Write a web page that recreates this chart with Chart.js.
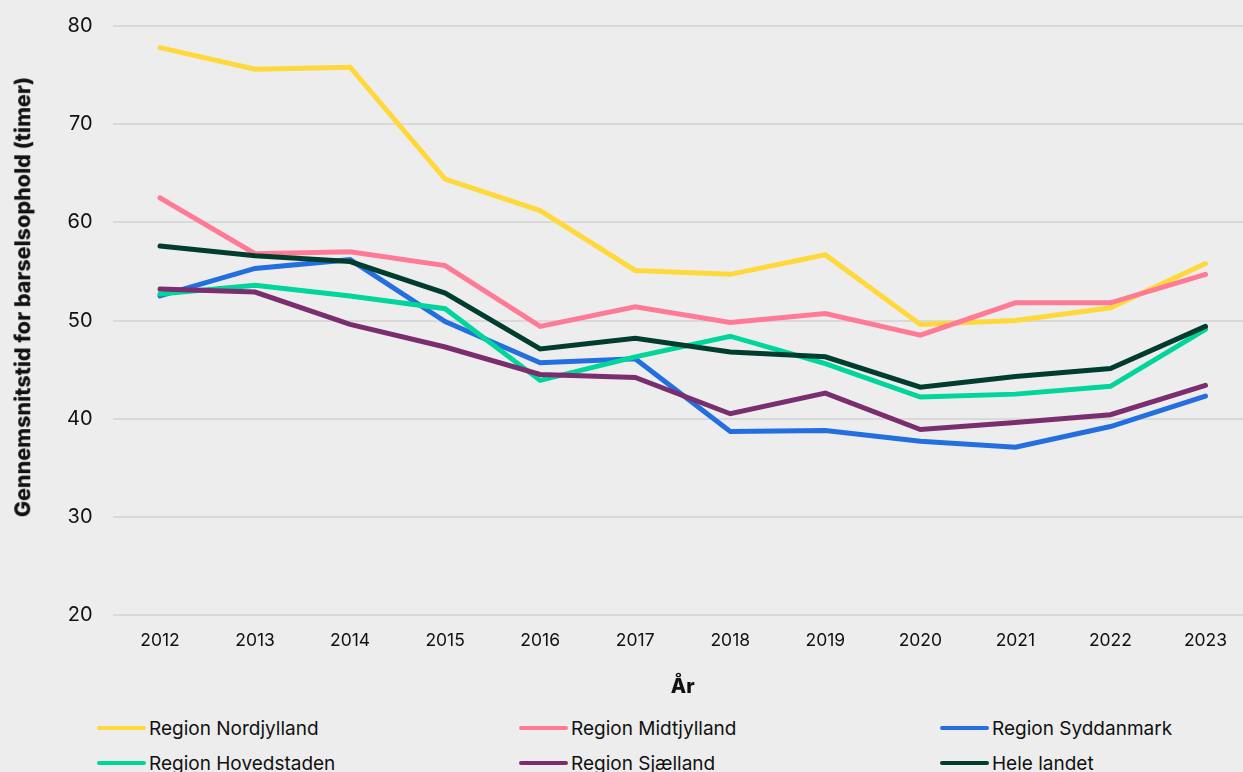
<!DOCTYPE html>
<html>
<head>
<meta charset="utf-8">
<script src="https://cdn.jsdelivr.net/npm/chart.js@4/dist/chart.umd.min.js"></script>
<style>
  html, body { margin: 0; padding: 0; background: #ededed; overflow: hidden; width: 1243px; height: 772px; }
  #wrap { position: absolute; left: 0; top: 0; width: 1253px; height: 705px; }
  #legend { position: absolute; left: 0; top: 716px; width: 1243px; font-family: Inter, "Noto Sans", sans-serif; font-size: 19px; color: #111; }
  .item { position: absolute; display: flex; align-items: center; height: 24px; white-space: nowrap; }
  .sw { width: 49px; height: 4px; border-radius: 2px; margin-right: 3px; }
  #ytitle { position: absolute; left: 22.5px; top: 296.5px; transform: translate(-50%, -50%) rotate(-90deg); white-space: nowrap;
            font-family: Inter, "Noto Sans", sans-serif; font-size: 21.5px; font-weight: 800; color: #111; line-height: 1; }
</style>
</head>
<body>
<div id="wrap"><canvas id="c"></canvas></div>
<div id="ytitle">Gennemsnitstid for barselsophold (timer)</div>
<div id="legend"></div>
<script>
const years = ["2012","2013","2014","2015","2016","2017","2018","2019","2020","2021","2022","2023"];
const seriesNames = ["Region Nordjylland","Region Midtjylland","Region Syddanmark","Region Hovedstaden","Region Sjælland","Hele landet"];
const nordjylland = [77.8, 75.6, 75.8, 64.4, 61.2, 55.1, 54.7, 56.7, 49.6, 50.0, 51.3, 55.8];
const midtjylland = [62.5, 56.8, 57.0, 55.6, 49.4, 51.4, 49.8, 50.7, 48.5, 51.8, 51.8, 54.7];
const syddanmark  = [52.5, 55.3, 56.2, 49.9, 45.7, 46.1, 38.7, 38.8, 37.7, 37.1, 39.2, 42.3];
const hovedstaden = [52.7, 53.6, 52.5, 51.2, 43.9, 46.3, 48.4, 45.6, 42.2, 42.5, 43.3, 49.1];
const sjaelland   = [53.2, 52.9, 49.6, 47.3, 44.5, 44.2, 40.5, 42.6, 38.9, 39.6, 40.4, 43.4];
const heleLandet  = [57.6, 56.6, 56.0, 52.8, 47.1, 48.2, 46.8, 46.3, 43.2, 44.3, 45.1, 49.4];
const colors = ["#ffd93b", "#ff7b95", "#246fe0", "#00d69b", "#7a2e6e", "#003d2f"];
const yTicks = [20, 30, 40, 50, 60, 70, 80];

const allData = [nordjylland, midtjylland, syddanmark, hovedstaden, sjaelland, heleLandet];
const FONT = 'Inter, "Noto Sans", sans-serif';

const datasets = allData.map((d, i) => ({
  label: seriesNames[i],
  data: d,
  borderColor: colors[i],
  backgroundColor: colors[i],
  borderWidth: 5,
  pointRadius: 0,
  pointHoverRadius: 0,
  tension: 0,
  fill: false,
  borderCapStyle: 'round',
  order: allData.length - i
}));

new Chart(document.getElementById('c'), {
  type: 'line',
  data: { labels: years, datasets },
  options: {
    responsive: true,
    maintainAspectRatio: false,
    animation: false,
    layout: { padding: { top: 26, right: 0, bottom: 0, left: 0 } },
    plugins: { legend: { display: false }, tooltip: { enabled: false } },
    scales: {
      x: {
        offset: true,
        grid: { display: false, drawTicks: false },
        border: { display: false },
        ticks: { color: '#111', font: { family: FONT, size: 17.5 }, padding: 15, maxRotation: 0 },
        title: { display: true, text: 'År', color: '#111', font: { family: FONT, size: 20, weight: 800 }, padding: { top: 8, bottom: 6 } },
        afterFit: (s) => { s.height = 90; s.paddingLeft = 0; s.paddingRight = 0; }
      },
      y: {
        min: 20, max: 80,
        afterBuildTicks: (s) => { s.ticks = yTicks.map(v => ({ value: v })); },
        grid: { color: '#d9d9d9', lineWidth: 2, drawTicks: false },
        border: { display: false },
        ticks: { color: '#111', font: { family: FONT, size: 20 }, padding: 20 },
        title: { display: false },
        afterFit: (s) => { s.width = 112.5; s.paddingTop = 0; s.paddingBottom = 0; }
      }
    }
  }
});

const legend = document.getElementById('legend');
const colX = [97, 519, 940];
seriesNames.forEach((name, i) => {
  const el = document.createElement('div');
  el.className = 'item';
  el.style.left = colX[i % 3] + 'px';
  el.style.top = (Math.floor(i / 3) * 35) + 'px';
  el.innerHTML = '<span class="sw" style="background:' + colors[i] + '"></span><span>' + name + '</span>';
  legend.appendChild(el);
});
</script>
</body>
</html>
